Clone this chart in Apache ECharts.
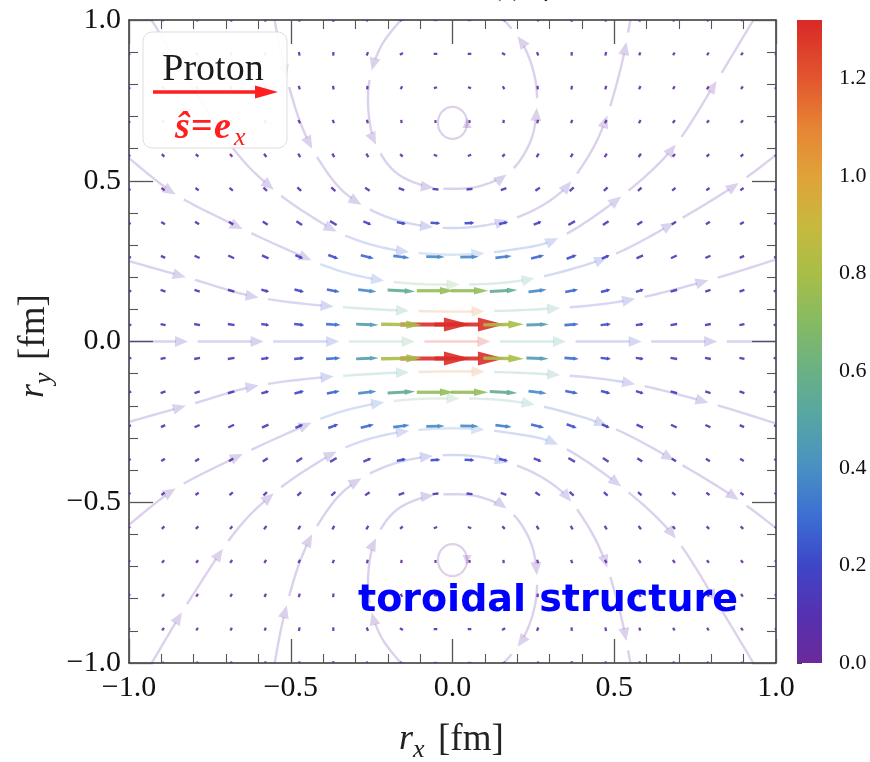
<!DOCTYPE html>
<html>
<head>
<meta charset="utf-8">
<script src="https://cdn.jsdelivr.net/npm/echarts@6/dist/echarts.min.js"></script>
<style>
html, body { margin: 0; padding: 0; background: #fff; }
#chart { width: 870px; height: 762px; }
</style>
</head>
<body>
<div id="chart"></div>
<script>
// grid positions of the upper-right quadrant (the field is mirror symmetric in x and y)
const QUAD_POS = [0.0526, 0.1579, 0.2632, 0.3684, 0.4737, 0.5789, 0.6842, 0.7895, 0.8947, 1.0];

// |B|, rows go up in y, columns go right in x
const QUAD_MAG = [
    [1.31, 0.80, 0.46, 0.30, 0.21, 0.16, 0.13, 0.11, 0.09, 0.08],
    [0.74, 0.56, 0.38, 0.27, 0.20, 0.16, 0.13, 0.10, 0.09, 0.08],
    [0.38, 0.34, 0.28, 0.22, 0.17, 0.14, 0.12, 0.10, 0.08, 0.07],
    [0.20, 0.19, 0.17, 0.15, 0.13, 0.11, 0.09, 0.08, 0.07, 0.06],
    [0.11, 0.11, 0.10, 0.10, 0.09, 0.08, 0.07, 0.06, 0.06, 0.05],
    [0.05, 0.05, 0.06, 0.06, 0.06, 0.06, 0.05, 0.05, 0.05, 0.04],
    [0.03, 0.04, 0.05, 0.05, 0.05, 0.05, 0.05, 0.04, 0.04, 0.04],
    [0.04, 0.04, 0.05, 0.05, 0.05, 0.05, 0.04, 0.04, 0.04, 0.04],
    [0.05, 0.05, 0.05, 0.05, 0.05, 0.04, 0.04, 0.04, 0.04, 0.03],
    [0.05, 0.05, 0.05, 0.05, 0.04, 0.04, 0.04, 0.04, 0.03, 0.03]
];
// arrow direction in degrees (0 = +x, 90 = +y)
const QUAD_ANG = [
    [0, 1, 2, 4, 6, 8, 10, 11, 12, 12],
    [0, 3, 7, 11, 14, 16, 17, 18, 18, 18],
    [1, 7, 14, 20, 24, 25, 25, 25, 25, 25],
    [3, 12, 22, 30, 33, 33, 32, 32, 31, 31],
    [5, 20, 35, 42, 43, 41, 39, 37, 36, 35],
    [20, 45, 58, 60, 57, 52, 48, 45, 43, 41],
    [90, 85, 75, 70, 65, 60, 55, 51, 48, 46],
    [165, 120, 95, 80, 73, 66, 60, 56, 52, 50],
    [178, 150, 112, 90, 78, 70, 64, 59, 55, 52],
    [180, 160, 125, 98, 82, 73, 66, 61, 57, 54]
];

// stream lines of the upper half (flow goes left to right)
const STREAM_MID = [[-1, 0], [1, 0]];
const STREAM_1 = [[-1.0, 0.25], [-0.8, 0.193], [-0.6, 0.137], [-0.33, 0.106], [0, 0.093], [0.33, 0.104], [0.55, 0.13], [0.78, 0.187], [1.0, 0.255]];
const STREAM_2 = [[-1.0, 0.57], [-0.86, 0.46], [-0.70, 0.375], [-0.52, 0.29], [-0.35, 0.22], [-0.18, 0.185], [0, 0.177], [0.18, 0.185], [0.35, 0.22], [0.52, 0.28], [0.72, 0.39], [0.88, 0.49], [1.0, 0.58]];
const STREAM_3 = [[-0.93, 1.0], [-0.81, 0.8], [-0.67, 0.59], [-0.55, 0.47], [-0.43, 0.385], [-0.32, 0.325], [-0.18, 0.285], [0, 0.27], [0.18, 0.285], [0.33, 0.323], [0.52, 0.45], [0.68, 0.60], [0.81, 0.80], [0.93, 1.0]];
const STREAM_4 = [[-0.55, 1.0], [-0.52, 0.85], [-0.47, 0.68], [-0.41, 0.56], [-0.33, 0.46], [-0.21, 0.39], [-0.07, 0.357], [0.07, 0.357], [0.21, 0.39], [0.33, 0.46], [0.41, 0.56], [0.47, 0.68], [0.52, 0.85], [0.55, 1.0]];
const STREAM_5 = [[-0.16, 1.0], [-0.22, 0.92], [-0.255, 0.82], [-0.26, 0.72], [-0.24, 0.62], [-0.18, 0.53], [-0.09, 0.485], [0, 0.475], [0.09, 0.485], [0.18, 0.53], [0.24, 0.62], [0.26, 0.72], [0.255, 0.82], [0.22, 0.92], [0.16, 1.0]];
const VORTEX = [[0, 0.68], [0, -0.68]];
const VORTEX_R = [0.045, 0.05];

// colour bar
const CMAX = 1.32;
const CMAP_STOPS = [0, 0.1, 0.2, 0.3, 0.4, 0.5, 0.6, 0.7, 0.8, 0.9, 1.0, 1.1, 1.2, 1.32];
const CMAP_COLORS = ['#6b2a9b', '#5531b0', '#3e46c8', '#3c6ed2', '#4890c4', '#56a5a4', '#69b184',
    '#86ba62', '#a8be48', '#c8b83e', '#e0a23a', '#e68434', '#e2562e', '#d92828'];

function hexRgb(h) {
    return [1, 3, 5].map(i => parseInt(h.substr(i, 2), 16));
}
function cmap(v) {
    v = Math.max(0, Math.min(CMAX, v));
    let k = 0;
    while (k < CMAP_STOPS.length - 2 && v > CMAP_STOPS[k + 1]) k++;
    const t = (v - CMAP_STOPS[k]) / (CMAP_STOPS[k + 1] - CMAP_STOPS[k]);
    const a = hexRgb(CMAP_COLORS[k]), b = hexRgb(CMAP_COLORS[k + 1]);
    const c = a.map((x, i) => Math.round(x + (b[i] - x) * t));
    return 'rgb(' + c.join(',') + ')';
}

// full 20x20 grid by reflection of the quadrant
const vectors = [];
QUAD_POS.forEach((yv, j) => {
    QUAD_POS.forEach((xv, i) => {
        const m = QUAD_MAG[j][i], a = QUAD_ANG[j][i];
        vectors.push([xv, yv, m, a]);
        vectors.push([-xv, yv, m, -a]);
        vectors.push([xv, -yv, m, -a]);
        vectors.push([-xv, -yv, m, a]);
    });
});

const upper = [STREAM_1, STREAM_2, STREAM_3, STREAM_4, STREAM_5];
const STREAMS = [STREAM_MID].concat(upper, upper.map(s => s.map(p => [p[0], -p[1]])));

// magnitude at any point (bilinear on the quadrant grid) - used for stream colours
function magAt(x, y) {
    const q0 = QUAD_POS[0], step = QUAD_POS[1] - QUAD_POS[0];
    const ax = Math.min(1, Math.max(q0, Math.abs(x)));
    const ay = Math.min(1, Math.max(q0, Math.abs(y)));
    const fi = (ax - q0) / step, fj = (ay - q0) / step;
    const i0 = Math.min(8, Math.floor(fi)), j0 = Math.min(8, Math.floor(fj));
    const tx = fi - i0, ty = fj - j0;
    const r0 = QUAD_MAG[j0][i0] * (1 - tx) + QUAD_MAG[j0][i0 + 1] * tx;
    const r1 = QUAD_MAG[j0 + 1][i0] * (1 - tx) + QUAD_MAG[j0 + 1][i0 + 1] * tx;
    return r0 * (1 - ty) + r1 * ty;
}

function smoothPath(pts, n) {
    if (pts.length < 3) return pts;
    const out = [];
    for (let k = 0; k < pts.length - 1; k++) {
        const p0 = pts[Math.max(k - 1, 0)], p1 = pts[k], p2 = pts[k + 1], p3 = pts[Math.min(k + 2, pts.length - 1)];
        for (let s = 0; s < n; s++) {
            const t = s / n, t2 = t * t, t3 = t2 * t;
            out.push([0, 1].map(d => 0.5 * (2 * p1[d] + (-p0[d] + p2[d]) * t +
                (2 * p0[d] - 5 * p1[d] + 4 * p2[d] - p3[d]) * t2 +
                (-p0[d] + 3 * p1[d] - 3 * p2[d] + p3[d]) * t3)));
        }
    }
    out.push(pts[pts.length - 1]);
    return out;
}

const SEG = 66, GAP = 9.6, PHASE = -7, HEAD = 13, HEAD_W = 5.5;
const STREAM_ALPHA = 0.22;

function renderStream(params, api) {
    const dpts = smoothPath(STREAMS[api.value(2)], 12);
    const pts = dpts.map(p => api.coord(p));
    const cum = [0];
    for (let k = 1; k < pts.length; k++) {
        cum.push(cum[k - 1] + Math.hypot(pts[k][0] - pts[k - 1][0], pts[k][1] - pts[k - 1][1]));
    }
    const total = cum[cum.length - 1];
    function at(s) {
        let k = 0;
        while (k < cum.length - 2 && cum[k + 1] < s) k++;
        const len = cum[k + 1] - cum[k] || 1;
        const t = Math.max(0, Math.min(1, (s - cum[k]) / len));
        const dx = pts[k + 1][0] - pts[k][0], dy = pts[k + 1][1] - pts[k][1];
        return {
            p: [pts[k][0] + dx * t, pts[k][1] + dy * t],
            d: [dpts[k][0] + (dpts[k + 1][0] - dpts[k][0]) * t, dpts[k][1] + (dpts[k + 1][1] - dpts[k][1]) * t],
            dir: [dx / len, dy / len]
        };
    }
    const children = [];
    for (let s = PHASE; s < total; s += SEG + GAP) {
        const a = Math.max(s, 0), b = Math.min(s + SEG, total);
        if (b - a < 4) continue;
        const headOn = s + SEG <= total && b - a > HEAD + 4;
        const shaftEnd = headOn ? b - HEAD + 1 : b;
        const mid = at((a + b) / 2).d;
        const col = cmap(magAt(mid[0], mid[1]));
        const poly = [at(a).p];
        for (let k = 0; k < pts.length; k++) {
            if (cum[k] > a && cum[k] < shaftEnd) poly.push(pts[k]);
        }
        poly.push(at(shaftEnd).p);
        children.push({
            type: 'polyline', shape: { points: poly },
            style: { stroke: col, lineWidth: 2.4, fill: null, opacity: STREAM_ALPHA }
        });
        if (headOn) {
            const e = at(b), u = e.dir;
            const base = [e.p[0] - u[0] * HEAD, e.p[1] - u[1] * HEAD];
            children.push({
                type: 'polygon',
                shape: { points: [e.p, [base[0] - u[1] * HEAD_W, base[1] + u[0] * HEAD_W], [base[0] + u[1] * HEAD_W, base[1] - u[0] * HEAD_W]] },
                style: { fill: col, opacity: STREAM_ALPHA }
            });
        }
    }
    return { type: 'group', children: children };
}

function renderVortex(params, api) {
    const c = api.coord([api.value(0), api.value(1)]);
    const sz = api.size([VORTEX_R[0], VORTEX_R[1]]);
    const up = api.value(1) > 0 ? -1 : 1;
    const col = cmap(0.03);
    const tip = [c[0] + sz[0], c[1] + up * 5];
    return {
        type: 'group', children: [
            { type: 'ellipse', shape: { cx: c[0], cy: c[1], rx: sz[0], ry: sz[1] }, style: { stroke: col, lineWidth: 2.2, fill: null, opacity: STREAM_ALPHA } },
            { type: 'polygon', shape: { points: [tip, [tip[0] - 4.5, tip[1] - up * 10], [tip[0] + 4.5, tip[1] - up * 10]] }, style: { fill: col, opacity: STREAM_ALPHA } }
        ]
    };
}

function renderArrow(params, api) {
    const c = api.coord([api.value(0), api.value(1)]);
    const m = api.value(2), a = api.value(3) * Math.PI / 180;
    const L = 50 * Math.pow(m, 1.15) + 2;
    const dx = Math.cos(a), dy = -Math.sin(a);
    const tail = [c[0] - dx * L / 2, c[1] - dy * L / 2];
    const tip = [c[0] + dx * L / 2, c[1] + dy * L / 2];
    const lw = 2.2 + 1.4 * m;
    const col = cmap(m);
    if (L < 8) {
        return { type: 'line', shape: { x1: tail[0], y1: tail[1], x2: tip[0], y2: tip[1] }, style: { stroke: col, lineWidth: lw, opacity: 0.9 } };
    }
    const hl = 0.38 * L, hw = Math.max(0.1 * L, lw * 0.8);
    const base = [tip[0] - dx * hl, tip[1] - dy * hl];
    return {
        type: 'group', children: [
            { type: 'line', shape: { x1: tail[0], y1: tail[1], x2: base[0] + dx, y2: base[1] + dy }, style: { stroke: col, lineWidth: lw, opacity: 0.9 } },
            { type: 'polygon', shape: { points: [tip, [base[0] - dy * hw, base[1] + dx * hw], [base[0] + dy * hw, base[1] - dx * hw]] }, style: { fill: col, opacity: 0.9 } }
        ]
    };
}

function renderBar(params, api) {
    const p0 = api.coord([0, 0]), p1 = api.coord([1, CMAX]);
    return {
        type: 'rect',
        shape: { x: p0[0], y: p1[1], width: p1[0] - p0[0], height: p0[1] - p1[1] },
        style: {
            fill: new echarts.graphic.LinearGradient(0, 1, 0, 0,
                CMAP_STOPS.map((v, i) => ({ offset: v / CMAX, color: CMAP_COLORS[i] })))
        }
    };
}

const SERIF = 'Liberation Serif';
const fmt = v => (v < 0 ? '\u2212' : '') + Math.abs(v).toFixed(1);
const frameLine = { onZero: false, lineStyle: { color: '#333', width: 1.5 } };
const frameTick = { inside: true, length: 24, lineStyle: { color: '#555', width: 1.3 } };
const frameMinor = { show: true, splitNumber: 5, length: 9, lineStyle: { color: '#555', width: 1.1 } };
const tickLabel = { fontFamily: SERIF, fontSize: 30, color: '#111' };

const chart = echarts.init(document.getElementById('chart'));
chart.setOption({
    animation: false,
    grid: [
        { left: 129, top: 20, width: 647, height: 643 },
        { left: 797, top: 20, width: 25, height: 643 }
    ],
    xAxis: [
        { gridIndex: 0, type: 'value', min: -1, max: 1, interval: 0.5, position: 'bottom',
          axisLine: frameLine, axisTick: frameTick, minorTick: frameMinor, splitLine: { show: false },
          axisLabel: Object.assign({ formatter: fmt, margin: 10 }, tickLabel) },
        { gridIndex: 0, type: 'value', min: -1, max: 1, interval: 0.5, position: 'top',
          axisLine: frameLine, axisTick: frameTick, minorTick: frameMinor, splitLine: { show: false },
          axisLabel: { show: false } },
        { gridIndex: 1, type: 'value', min: 0, max: 1, show: false }
    ],
    yAxis: [
        { gridIndex: 0, type: 'value', min: -1, max: 1, interval: 0.5, position: 'left',
          axisLine: frameLine, axisTick: frameTick, minorTick: frameMinor, splitLine: { show: false },
          axisLabel: Object.assign({ formatter: fmt, margin: 8 }, tickLabel) },
        { gridIndex: 0, type: 'value', min: -1, max: 1, interval: 0.5, position: 'right',
          axisLine: frameLine, axisTick: frameTick, minorTick: frameMinor, splitLine: { show: false },
          axisLabel: { show: false } },
        { gridIndex: 1, type: 'value', min: 0, max: CMAX, interval: 0.2, position: 'right',
          axisLine: { show: false }, splitLine: { show: false },
          axisTick: { show: true, inside: false, length: 5, lineStyle: { color: '#444', width: 1 } },
          minorTick: { show: true, splitNumber: 4, length: 3, lineStyle: { color: '#444', width: 1 } },
          axisLabel: { showMaxLabel: false, formatter: v => v.toFixed(1), margin: 17, fontFamily: SERIF, fontSize: 22, color: '#111' } }
    ],
    series: [
        { type: 'custom', name: 'streams', xAxisIndex: 0, yAxisIndex: 0, clip: true, silent: true, z: 2,
          data: STREAMS.map((s, i) => [0, 0, i]), encode: { x: 0, y: 1 }, renderItem: renderStream },
        { type: 'custom', name: 'vortex', xAxisIndex: 0, yAxisIndex: 0, clip: true, silent: true, z: 2,
          data: VORTEX, encode: { x: 0, y: 1 }, renderItem: renderVortex },
        { type: 'custom', name: 'field', xAxisIndex: 0, yAxisIndex: 0, clip: true, silent: true, z: 3,
          data: vectors, encode: { x: 0, y: 1 }, renderItem: renderArrow },
        { type: 'custom', name: 'colorbar', xAxisIndex: 2, yAxisIndex: 2, silent: true,
          data: [[0, 0]], encode: { x: 0, y: 1 }, renderItem: renderBar }
    ],
    graphic: [
        { type: 'text', z: 100, x: 540, y: -13, style: { text: 'B(r) [fm\u207B\u00B3]', font: 'italic 30px ' + SERIF, fill: '#222', align: 'center', verticalAlign: 'middle' } },
        // legend box
        { type: 'rect', z: 100, shape: { x: 143, y: 32, width: 144, height: 116, r: 9 },
          style: { fill: 'rgba(255,255,255,0.92)', stroke: '#dddddd', lineWidth: 1 } },
        { type: 'text', z: 101, x: 213, y: 70, style: { text: 'Proton', font: '38px ' + SERIF, fill: '#1a1a1a', align: 'center', verticalAlign: 'middle' } },
        { type: 'line', z: 101, shape: { x1: 153, y1: 92, x2: 257, y2: 92 }, style: { stroke: '#ff1f1f', lineWidth: 3.5 } },
        { type: 'polygon', z: 101, shape: { points: [[278, 92], [255, 85.5], [255, 98.5]] }, style: { fill: '#ff1f1f' } },
        { type: 'text', z: 101, x: 175, y: 128, style: { text: '\u015D', font: 'italic bold 38px ' + SERIF, fill: '#ff1f1f', align: 'left', verticalAlign: 'middle' } },
        { type: 'text', z: 101, x: 191, y: 128, style: { text: '=', font: 'bold 38px ' + SERIF, fill: '#ff1f1f', align: 'left', verticalAlign: 'middle' } },
        { type: 'text', z: 101, x: 214, y: 128, style: { text: 'e', font: 'italic bold 38px ' + SERIF, fill: '#ff1f1f', align: 'left', verticalAlign: 'middle' } },
        { type: 'text', z: 101, x: 234, y: 138, style: { text: 'x', font: 'italic 26px ' + SERIF, fill: '#ff1f1f', align: 'left', verticalAlign: 'middle' } },
        // annotation
        { type: 'text', z: 101, x: 358, y: 601, style: { text: 'toroidal structure', font: 'bold 38px "DejaVu Sans"', fill: '#0000ff', align: 'left', verticalAlign: 'middle' } },
        // x axis name
        { type: 'text', z: 101, x: 399, y: 740, style: { text: 'r', font: 'italic 36px ' + SERIF, fill: '#222', align: 'left', verticalAlign: 'middle' } },
        { type: 'text', z: 101, x: 413, y: 750, style: { text: 'x', font: 'italic 26px ' + SERIF, fill: '#222', align: 'left', verticalAlign: 'middle' } },
        { type: 'text', z: 101, x: 438, y: 740, style: { text: '[fm]', font: '37px ' + SERIF, fill: '#222', align: 'left', verticalAlign: 'middle' } },
        // y axis name (rotated)
        { type: 'group', z: 101, x: 34, y: 340, rotation: Math.PI / 2, children: [
            { type: 'text', x: -58, y: 0, style: { text: 'r', font: 'italic 36px ' + SERIF, fill: '#222', align: 'left', verticalAlign: 'middle' } },
            { type: 'text', x: -44, y: 10, style: { text: 'y', font: 'italic 26px ' + SERIF, fill: '#222', align: 'left', verticalAlign: 'middle' } },
            { type: 'text', x: -20, y: 0, style: { text: '[fm]', font: '37px ' + SERIF, fill: '#222', align: 'left', verticalAlign: 'middle' } }
        ] }
    ]
});
</script>
</body>
</html>
